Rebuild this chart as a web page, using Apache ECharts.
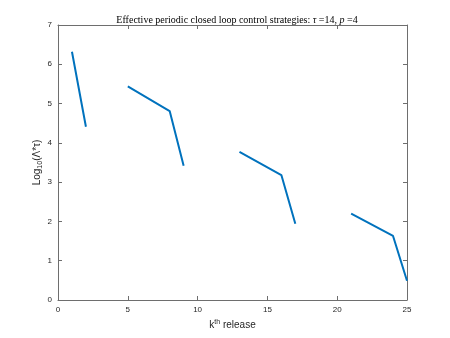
<!DOCTYPE html>
<html>
<head>
<meta charset="utf-8">
<script src="https://cdn.jsdelivr.net/npm/echarts@6/dist/echarts.min.js"></script>
<style>
  html, body { margin: 0; padding: 0; background: #fff; }
  .chart { width: 450px; height: 338px; }
</style>
</head>
<body>
<div class="chart"></div>
<script>
// k-th release and log10(Λ*τ); null = no value (line break)
const releases = [1, 2, 3, 4, 5, 6, 7, 8, 9, 10, 11, 12, 13, 14, 15, 16, 17, 18, 19, 20, 21, 22, 23, 24, 25]
const logLambda = [6.32, 4.41, null, null, 5.44, null, null, 4.81, 3.42, null, null, null, 3.77, null, null, 3.18, 1.94, null, null, null, 2.20, null, null, 1.63, 0.49]
const xTicks = [0, 5, 10, 15, 20, 25]
const yTicks = [0, 1, 2, 3, 4, 5, 6, 7]

;(function () {
    const myChart = echarts.init(document.querySelector('.chart'))
    const axisColor = '#6e6e6e'
    const labelFont = { fontFamily: 'Liberation Sans', fontSize: 8, color: '#262626' }

    // segments are joined only between releases that are listed in the picture
    const points = []
    let prevX = null
    releases.forEach(function (k, i) {
        const v = logLambda[i]
        if (v === null) return
        if (prevX !== null && !isSegment(prevX, k)) points.push([ (prevX + k) / 2, '-' ])
        points.push([k, v])
        prevX = k
    })
    function isSegment(a, b) {
        const ia = releases.indexOf(a), ib = releases.indexOf(b)
        if (ib - ia === 1) return true
        // 5 -> 8, 13 -> 16, 21 -> 24 are drawn straight
        return [5, 13, 21].indexOf(a) !== -1
    }

    const xBase = {
        type: 'value', min: xTicks[0], max: xTicks[xTicks.length - 1], interval: 5,
        axisLine: { show: true, onZero: false, lineStyle: { color: axisColor, width: 1 } },
        axisTick: { show: true, inside: true, length: 4, lineStyle: { color: axisColor } },
        splitLine: { show: false }
    }
    const yBase = {
        type: 'value', min: yTicks[0], max: yTicks[yTicks.length - 1], interval: 1,
        axisLine: { show: true, onZero: false, lineStyle: { color: axisColor, width: 1 } },
        axisTick: { show: true, inside: true, length: 4, lineStyle: { color: axisColor } },
        splitLine: { show: false }
    }

    const option = {
        animation: false,
        title: {
            text: 'Effective periodic closed loop control strategies: {i|τ} =14, {i|p} =4',
            left: 232,
            textAlign: 'center',
            top: 10,
            textStyle: {
                fontFamily: 'Liberation Serif', fontSize: 10, fontWeight: 'normal', color: '#000',
                rich: { i: { fontFamily: 'Liberation Serif', fontSize: 10, fontStyle: 'italic', color: '#000' } }
            }
        },
        grid: { left: 58, right: 43, top: 25, bottom: 38 },
        xAxis: [
            Object.assign({}, xBase, {
                position: 'bottom',
                name: '{n|k}{s|th}{n| release}',
                nameLocation: 'middle',
                nameGap: 17,
                nameTextStyle: {
                    rich: {
                        n: { fontFamily: 'Liberation Sans', fontSize: 10, color: '#262626' },
                        s: { fontFamily: 'Liberation Sans', fontSize: 7, color: '#262626', verticalAlign: 'top', padding: [0, 0, 6, 0] }
                    }
                },
                axisLabel: Object.assign({ margin: 6 }, labelFont)
            }),
            Object.assign({}, xBase, { position: 'top', axisLabel: { show: false } })
        ],
        yAxis: [
            Object.assign({}, yBase, {
                position: 'left',
                name: '{n|Log}{s|10}{n|(Λ*τ)}',
                nameLocation: 'middle',
                nameGap: 14,
                nameMoveOverlap: false,
                nameTextStyle: {
                    rich: {
                        n: { fontFamily: 'Liberation Sans', fontSize: 10, color: '#262626' },
                        s: { fontFamily: 'Liberation Sans', fontSize: 7, color: '#262626', verticalAlign: 'bottom', padding: [6, 0, 0, 0] }
                    }
                },
                axisLabel: Object.assign({ margin: 6 }, labelFont)
            }),
            Object.assign({}, yBase, { position: 'right', axisLabel: { show: false } })
        ],
        series: [
            {
                type: 'line',
                data: points,
                symbol: 'none',
                connectNulls: false,
                lineStyle: { color: '#0072BD', width: 2 }
            }
        ]
    }
    myChart.setOption(option)
})()
</script>
</body>
</html>
